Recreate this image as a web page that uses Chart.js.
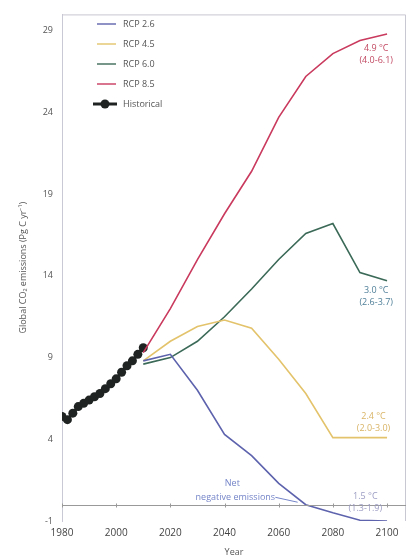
<!DOCTYPE html>
<html>
<head>
<meta charset="utf-8">
<script src="https://cdn.jsdelivr.net/npm/chart.js@4"></script>
<style>
  html, body { margin: 0; padding: 0; background: #fff; }
  #wrap { width: 412px; height: 558px; }
</style>
</head>
<body>
<div id="wrap"><canvas id="co2Chart" width="412" height="558"></canvas></div>
<script>
// values (Pg C per year)
const histYears = [1980, 1982, 1984, 1986, 1988, 1990, 1992, 1994, 1996, 1998, 2000, 2002, 2004, 2006, 2008, 2010];
const histValues = [5.4, 5.2, 5.6, 6.0, 6.2, 6.4, 6.6, 6.8, 7.1, 7.4, 7.7, 8.1, 8.5, 8.8, 9.2, 9.6];

const scenarioYears = [2010, 2020, 2030, 2040, 2050, 2060, 2070, 2080, 2090, 2100];
const rcp26 = [8.8, 9.2, 7.0, 4.3, 3.0, 1.3, 0.0, -0.5, -0.95, -1.0];
const rcp45 = [8.8, 10.0, 10.9, 11.3, 10.8, 8.9, 6.8, 4.1, 4.1, 4.1];
const rcp60 = [8.6, 9.0, 10.0, 11.5, 13.2, 15.0, 16.6, 17.2, 14.2, 13.7];
const rcp85 = [9.3, 12.0, 15.0, 17.8, 20.4, 23.7, 26.2, 27.6, 28.4, 28.8];

const xTicks = [1980, 2000, 2020, 2040, 2060, 2080, 2100];
const yTicks = [-1, 4, 9, 14, 19, 24, 29];

const warmingLabels = [
  { year: 2096, value: 27.9, lines: ["4.9 °C", "(4.0-6.1)"], color: "#c24a63" },
  { year: 2096, value: 13.1, lines: ["3.0 °C", "(2.6-3.7)"], color: "#4f7f98" },
  { year: 2095, value: 5.4, lines: ["2.4 °C", "(2.0-3.0)"], color: "#d9b466" },
  { year: 2092, value: 0.5, lines: ["1.5 °C", "(1.3-1.9)"], color: "#9c9cc4" },
];

const toPoints = (xs, ys) => xs.map((x, i) => ({ x: x, y: ys[i] }));

function lineSet(label, values, color) {
  return {
    label: label,
    data: toPoints(scenarioYears, values),
    borderColor: color,
    backgroundColor: color,
    borderWidth: 1.6,
    pointRadius: 0,
    tension: 0,
  };
}

function drawFrame(chart) {
  const c = chart.ctx;
  const a = chart.chartArea;
  const xs = chart.scales.x;
  const ys = chart.scales.y;
  c.save();
  // light frame on top and right
  c.strokeStyle = "#c8c8d2";
  c.lineWidth = 1;
  c.beginPath();
  c.moveTo(a.left, a.top + 0.5);
  c.lineTo(a.right - 0.5, a.top + 0.5);
  c.lineTo(a.right - 0.5, a.bottom);
  c.stroke();
  // zero line acts as the x axis
  const y0 = Math.round(ys.getPixelForValue(0)) + 0.5;
  c.strokeStyle = "#999999";
  c.beginPath();
  c.moveTo(a.left, y0);
  c.lineTo(a.right, y0);
  xTicks.forEach((t) => {
    const px = Math.round(xs.getPixelForValue(t)) + 0.5;
    c.moveTo(px, y0 - 2);
    c.lineTo(px, y0 + 2);
  });
  c.stroke();
  c.restore();
}

const extras = {
  id: "extras",
  afterDatasetsDraw(chart) {
    drawFrame(chart);
    const { ctx, scales } = chart;
    const x = scales.x, y = scales.y;
    ctx.save();
    ctx.font = "9px 'Open Sans'";
    ctx.textAlign = "center";
    ctx.textBaseline = "middle";
    warmingLabels.forEach((lab) => {
      const px = x.getPixelForValue(lab.year);
      const py = y.getPixelForValue(lab.value);
      ctx.fillStyle = lab.color;
      lab.lines.forEach((t, i) => ctx.fillText(t, px, py + i * 12));
    });

    // net negative emissions note
    const nx = x.getPixelForValue(2044);
    const ny = y.getPixelForValue(0.45);
    ctx.fillStyle = "#7484c8";
    ctx.fillText("Net", nx - 3, ny - 14);
    ctx.fillText("negative emissions", nx, ny);
    ctx.strokeStyle = "#7484c8";
    ctx.lineWidth = 1;
    ctx.beginPath();
    ctx.moveTo(nx + 40, ny);
    ctx.lineTo(x.getPixelForValue(2067), y.getPixelForValue(0.15));
    ctx.stroke();

    // legend inside the plot
    const lx = 97, ly = 24, gap = 20;
    ctx.textAlign = "left";
    chart.data.datasets.forEach((ds, i) => {
      const yy = ly + i * gap;
      ctx.strokeStyle = ds.borderColor;
      if (ds.label === "Historical") {
        ctx.lineWidth = 3;
        ctx.beginPath();
        ctx.moveTo(lx - 4, yy);
        ctx.lineTo(lx + 20, yy);
        ctx.stroke();
        ctx.fillStyle = ds.borderColor;
        ctx.beginPath();
        ctx.arc(lx + 8, yy, 4.5, 0, Math.PI * 2);
        ctx.fill();
      } else {
        ctx.lineWidth = 1.4;
        ctx.beginPath();
        ctx.moveTo(lx, yy);
        ctx.lineTo(lx + 19, yy);
        ctx.stroke();
      }
      ctx.fillStyle = "#555";
      ctx.fillText(ds.label, lx + 26, yy);
    });
    ctx.restore();
  },
};

const ctx = document.getElementById("co2Chart").getContext("2d");

new Chart(ctx, {
  type: "line",
  data: {
    datasets: [
      lineSet("RCP 2.6", rcp26, "#5e63ad"),
      lineSet("RCP 4.5", rcp45, "#e3c36b"),
      lineSet("RCP 6.0", rcp60, "#3c6a58"),
      lineSet("RCP 8.5", rcp85, "#c93a5e"),
      {
        label: "Historical",
        data: toPoints(histYears, histValues),
        borderColor: "#1f2422",
        backgroundColor: "#1f2422",
        borderWidth: 3,
        pointRadius: 4.5,
        pointBorderWidth: 0,
        tension: 0,
      },
    ],
  },
  options: {
    responsive: false,
    animation: false,
    devicePixelRatio: 1,
    layout: { padding: { top: 5, right: 6, left: 0, bottom: 0 } },
    plugins: {
      legend: { display: false },
      tooltip: { enabled: false },
    },
    scales: {
      x: {
        type: "linear",
        min: 1980,
        max: 2107,
        afterBuildTicks: (scale) => {
          scale.ticks = xTicks.map((v) => ({ value: v }));
        },
        afterFit: (scale) => {
          scale.height = 37;
        },
        grid: { display: false, drawTicks: false },
        border: { display: false },
        ticks: {
          padding: 6,
          color: "#444",
          font: { family: "'Open Sans'", size: 10 },
          maxRotation: 0,
          callback: (value) => String(value),
        },
        title: {
          display: true,
          text: "Year",
          color: "#555",
          font: { family: "'Open Sans'", size: 9 },
          padding: { top: 0, bottom: 0 },
        },
      },
      y: {
        min: -1,
        max: 30,
        afterBuildTicks: (scale) => {
          scale.ticks = yTicks.map((v) => ({ value: v }));
        },
        afterFit: (scale) => {
          scale.width = 62;
        },
        grid: { display: false, drawTicks: false },
        border: { display: true, color: "#c9c9d6" },
        ticks: {
          padding: 9,
          color: "#555",
          font: { family: "'Open Sans'", size: 9 },
        },
        title: {
          display: true,
          text: "Global CO₂ emissions (Pg C yr⁻¹)",
          color: "#555",
          font: { family: "'Open Sans'", size: 9 },
          padding: { top: 18, bottom: 0 },
        },
      },
    },
  },
  plugins: [extras],
});
</script>
</body>
</html>
